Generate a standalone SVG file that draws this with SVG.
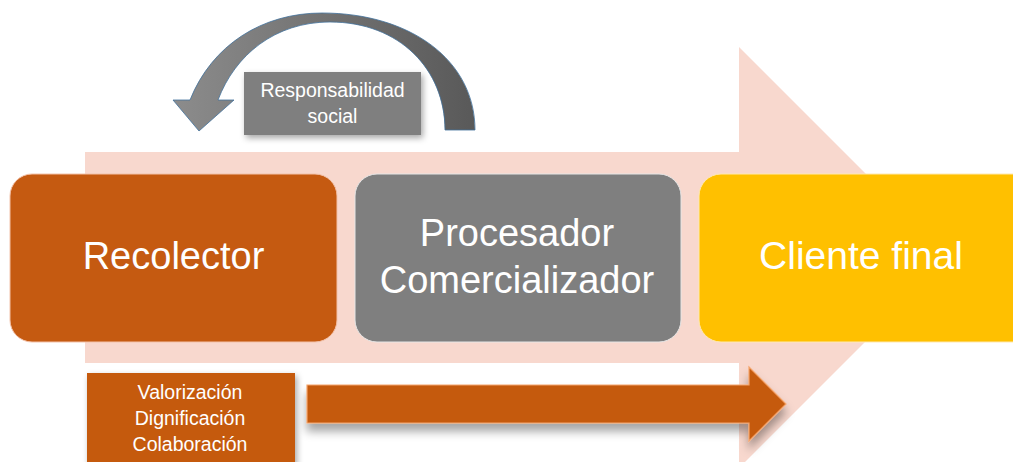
<svg xmlns="http://www.w3.org/2000/svg" width="1013" height="462" viewBox="0 0 1013 462">
<defs>
<style>
.t{font-family:"Liberation Sans",Arial,sans-serif;fill:#ffffff;text-anchor:middle}
.big{font-size:38px}
.small{font-size:19.5px}
</style>
<linearGradient id="curveGrad" x1="0" y1="0" x2="1" y2="0">
<stop offset="0" stop-color="#8C8C8C"/>
<stop offset="1" stop-color="#595959"/>
</linearGradient>
<filter id="shadow" x="-10%" y="-20%" width="130%" height="160%">
<feDropShadow dx="2" dy="3" stdDeviation="3" flood-color="#000" flood-opacity="0.35"/>
</filter>
<filter id="shadowDown" x="-10%" y="-30%" width="120%" height="200%">
<feDropShadow dx="0" dy="8" stdDeviation="5" flood-color="#000" flood-opacity="0.35"/>
</filter>
</defs>
<rect width="1013" height="462" fill="#ffffff"/>
<g id="background-arrow">
<path d="M85 152 L739 152 L739 47 L949.5 257.5 L739 468 L739 363 L85 363 Z" fill="#F8D8CE"/>
</g>
<g id="connectors">
<path id="feedback-arrow" d="M190 100 C212 45 262 13 322 13 C410 13 475 60 475 130 L445 130 C445 70 400 22 330 22 C275 22 235 55 218 100 L234 100 L199 131 L173 100 Z" fill="url(#curveGrad)" stroke="#41719C" stroke-width="0.8"/>
<path id="value-arrow" d="M307 385 L749 385 L749 367 L786 404 L749 441 L749 423 L307 423 Z" fill="#C55A11" stroke="#F4A46A" stroke-width="1.2" filter="url(#shadowDown)"/>
</g>
<g id="node-recolector">
<rect x="10" y="174" width="327" height="168" rx="22" fill="#C55A11" stroke="#F3C2AA" stroke-width="1"/>
<text class="t big" x="173.5" y="269">Recolector</text>
</g>
<g id="node-procesador">
<rect x="355" y="174" width="326" height="168" rx="22" fill="#7F7F7F" stroke="#E6E6E6" stroke-width="1"/>
<text class="t big" x="517" y="246">Procesador</text>
<text class="t big" x="517" y="293">Comercializador</text>
</g>
<g id="node-cliente">
<rect x="699" y="174" width="336" height="168" rx="22" fill="#FFC000" stroke="#FFE9B0" stroke-width="1"/>
<text class="t big" x="861" y="269" style="font-size:39px">Cliente final</text>
</g>
<g id="node-responsabilidad">
<rect x="244" y="72" width="177" height="63" fill="#7F7F7F" filter="url(#shadow)"/>
<text class="t small" x="332.5" y="97">Responsabilidad</text>
<text class="t small" x="332.5" y="123">social</text>
</g>
<g id="node-valores">
<rect x="87" y="373" width="208" height="100" fill="#C55A11" filter="url(#shadow)"/>
<text class="t small" x="190" y="399">Valorización</text>
<text class="t small" x="190" y="425">Dignificación</text>
<text class="t small" x="190" y="451">Colaboración</text>
</g>
</svg>
